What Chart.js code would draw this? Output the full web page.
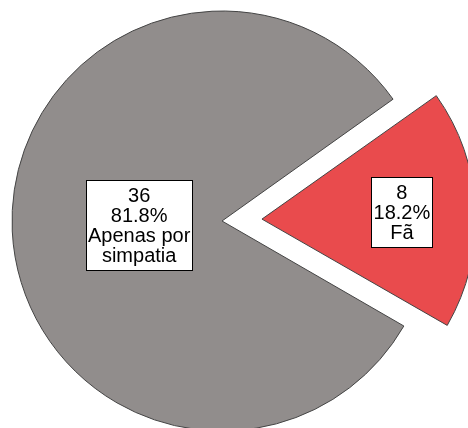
<!DOCTYPE html>
<html>
<head>
<meta charset="utf-8">
<script src="https://cdn.jsdelivr.net/npm/chart.js@4/dist/chart.umd.min.js"></script>
<style>
  html, body { margin: 0; padding: 0; background: #fff; }
</style>
</head>
<body>
<canvas id="myChart1" width="468" height="428"></canvas>
<script>
// categorias e contagens
const categorias = [['Apenas por', 'simpatia'], ['Fã']];
const contagens = [36, 8];
const cores = ['#918d8c', '#e94b4d'];

// distancia da caixa do rotulo ao centro, em fracao do raio
const distRotulo = [0.395, 0.667];

const rotulosCaixa = {
    id: 'rotulosCaixa',
    afterDatasetsDraw(chart) {
        const ctx = chart.ctx;
        const meta = chart.getDatasetMeta(0);
        const total = contagens.reduce((a, b) => a + b, 0);
        ctx.save();
        ctx.font = '20px "Liberation Sans", Arial, sans-serif';
        ctx.textAlign = 'center';
        ctx.textBaseline = 'middle';
        meta.data.forEach((arc, i) => {
            const p = arc.getProps(['x', 'y', 'startAngle', 'endAngle', 'outerRadius'], true);
            // o ArcElement v4 desloca a fatia em offset / 4
            const desloc = (arc.options.offset || 0) / 4;
            const meio = (p.startAngle + p.endAngle) / 2;
            const d = desloc + distRotulo[i] * p.outerRadius;
            const cx = p.x + Math.cos(meio) * d;
            const cy = p.y + Math.sin(meio) * d;

            const linhas = [String(contagens[i]), (contagens[i] / total * 100).toFixed(1) + '%'].concat(categorias[i]);
            const alturaLinha = 20;
            const larg = Math.round(Math.max(...linhas.map(l => ctx.measureText(l).width)) + 4);
            const alt = linhas.length * alturaLinha + 10;
            const bx = Math.round(cx - larg / 2) + 0.5;
            const by = Math.round(cy - alt / 2) + 0.5;
            ctx.fillStyle = '#ffffff';
            ctx.fillRect(bx, by, larg, alt);
            ctx.strokeStyle = '#000000';
            ctx.lineWidth = 1;
            ctx.strokeRect(bx, by, larg, alt);
            ctx.fillStyle = '#000000';
            linhas.forEach((l, k) => {
                ctx.fillText(l, cx, by + 5 + alturaLinha * (k + 0.5) + 1);
            });
        });
        ctx.restore();
    }
};

const renderChart1 = () => {
    const ctx = document.getElementById('myChart1').getContext('2d');
    new Chart(ctx, {
        type: 'pie',
        data: {
            labels: categorias,
            datasets: [{
                data: contagens,
                backgroundColor: cores,
                borderColor: '#444444',
                borderWidth: 1,
                offset: [0, 160],
                hoverOffset: 0
            }]
        },
        options: {
            responsive: false,
            animation: false,
            events: [],
            rotation: 120,
            radius: 210,
            layout: { padding: { left: 0, right: 24, top: 14, bottom: 0 } },
            plugins: {
                legend: { display: false },
                tooltip: { enabled: false }
            }
        },
        plugins: [rotulosCaixa]
    });
};

document.addEventListener('DOMContentLoaded', renderChart1);
</script>
</body>
</html>
